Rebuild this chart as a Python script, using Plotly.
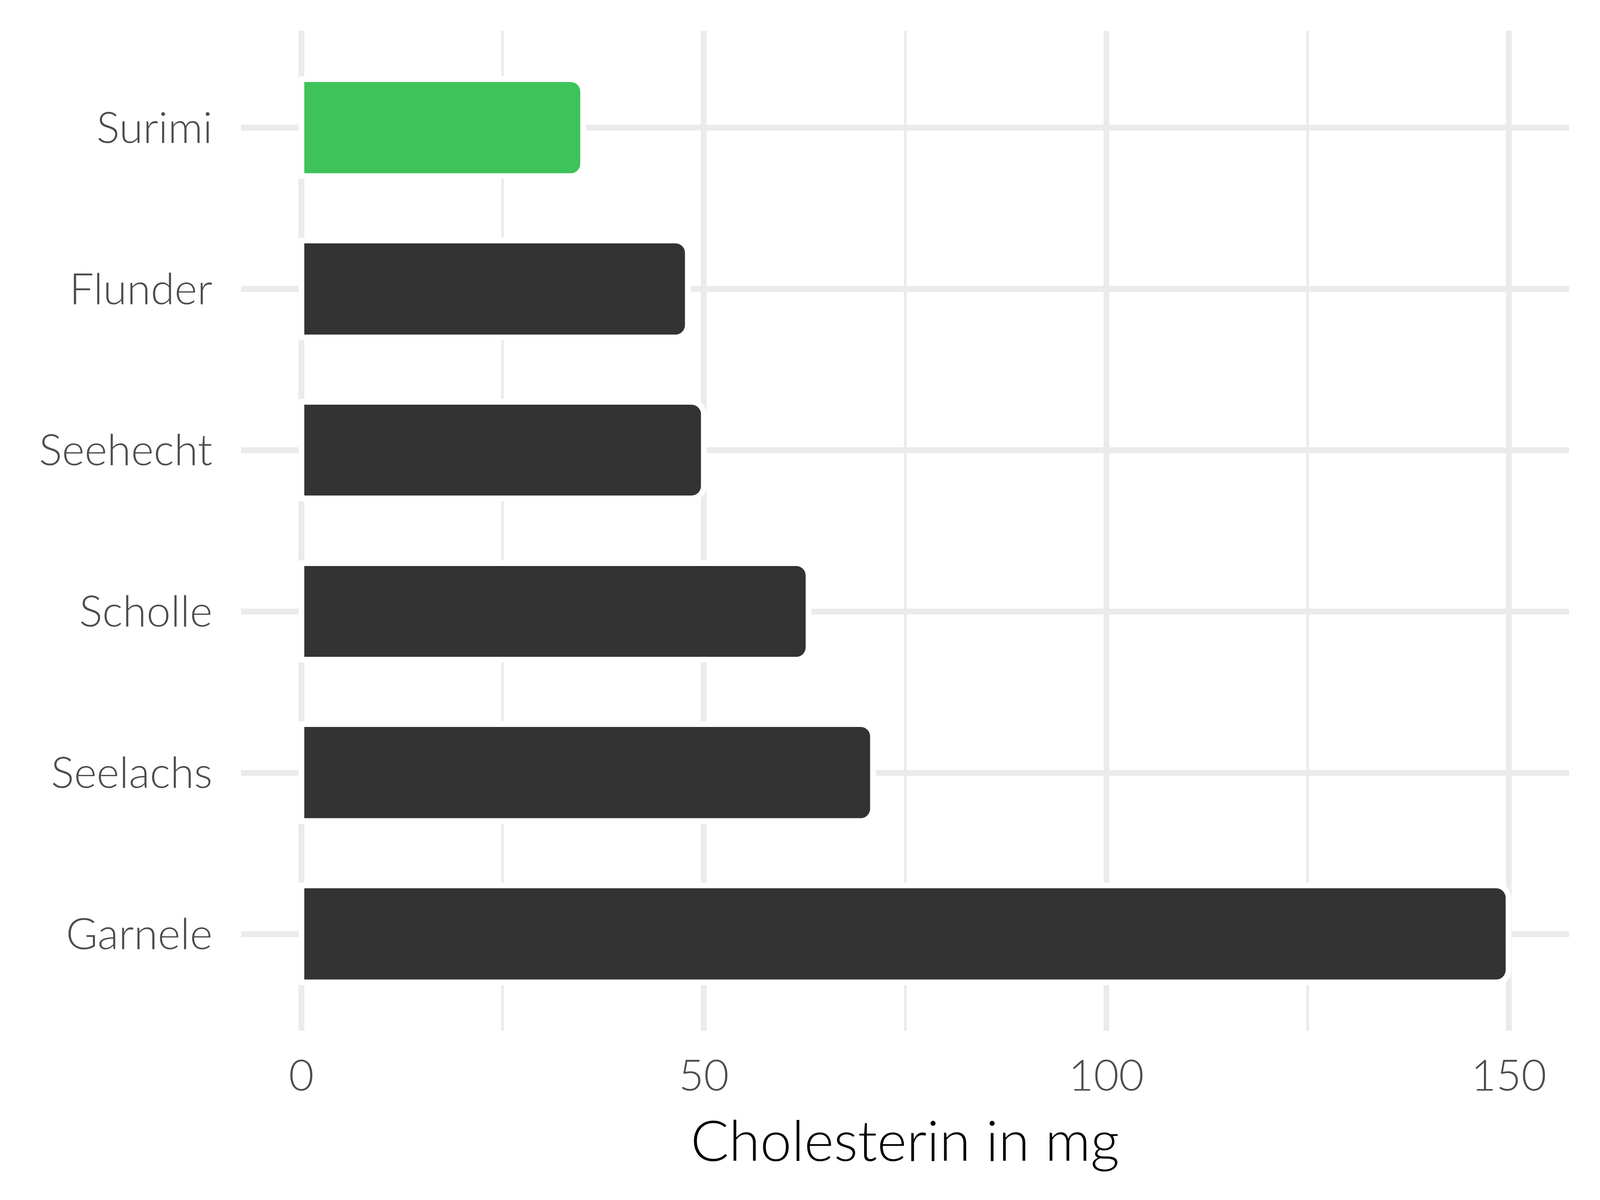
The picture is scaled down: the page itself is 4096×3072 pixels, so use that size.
import plotly.graph_objects as go

# Data (top to bottom as shown)
foods = ["Surimi", "Flunder", "Seehecht", "Scholle", "Seelachs", "Garnele"]
cholesterol_mg = [35, 48, 50, 63, 71, 150]
highlight = ["Surimi"]
x_ticks = [0, 50, 100, 150]
x_label = "Cholesterin in mg"

GREEN = "#3EC35A"
DARK = "#333333"
colors = [GREEN if f in highlight else DARK for f in foods]

S = 0.853
FONT = "Lato"
BODY = 8  # default page body margin offset compensation

fig = go.Figure()
fig.add_trace(go.Bar(
    x=cholesterol_mg,
    y=foods,
    orientation="h",
    width=0.6,
    marker=dict(color=colors, line=dict(color="white", width=17 * S), cornerradius=32),
    showlegend=False,
    hoverinfo="skip",
))

fig.update_layout(
    width=4096,
    height=3072,
    margin=dict(l=617 - BODY, r=79 + BODY, t=79 - BODY, b=433 + BODY, pad=0),
    paper_bgcolor="white",
    plot_bgcolor="white",
    bargap=0,
    font=dict(family=FONT, color="#4D4D4D", size=111, weight=300),
    xaxis=dict(
        range=[-7.5, 157.5],
        tickvals=x_ticks,
        ticktext=[str(v) for v in x_ticks],
        showgrid=True,
        gridcolor="#EBEBEB",
        gridwidth=17 * S,
        minor=dict(dtick=25, tick0=0, showgrid=True, gridcolor="#EBEBEB", gridwidth=8.5 * S),
        zeroline=False,
        showline=False,
        ticks="",
        tickfont=dict(family=FONT, size=111, color="#4D4D4D", weight=300),
        ticklabelstandoff=41,
        title=dict(text=x_label, font=dict(family=FONT, size=145, color="black", weight=300), standoff=55),
    ),
    yaxis=dict(
        categoryorder="array",
        categoryarray=foods,
        range=[5.6, -0.6],
        showgrid=True,
        gridcolor="#EBEBEB",
        gridwidth=17 * S,
        zeroline=False,
        showline=False,
        ticks="",
        tickfont=dict(family=FONT, size=111, color="#4D4D4D", weight=300),
        ticklabelstandoff=72,
    ),
)

fig.write_html("out.html")
